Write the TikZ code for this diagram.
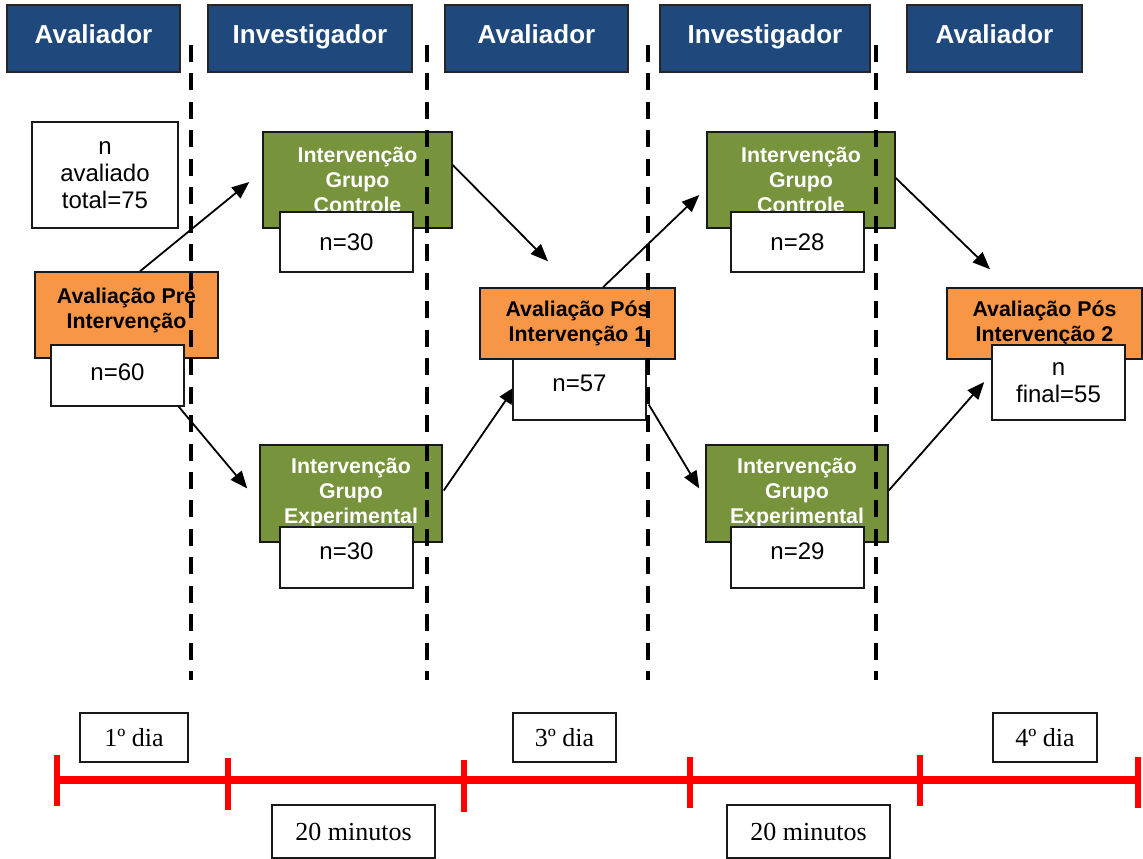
\documentclass[tikz,border=0pt]{standalone}
\usepackage{fontspec}
\setmainfont{Liberation Sans}
\newfontfamily\tnr{Liberation Serif}
\usetikzlibrary{arrows.meta,calc,backgrounds}
\definecolor{hblue}{HTML}{1F497D}
\definecolor{orng}{HTML}{F79646}
\definecolor{grn}{HTML}{77933C}
\definecolor{tlred}{HTML}{FF0000}
\newcommand\mybox[6]{\node[#2, minimum width={(#4-#3)*0.75pt}, minimum height={(#6-#5)*0.75pt}] (#1) at ({(#3+#4)/2},{(#5+#6)/2})}
\begin{document}
\begin{tikzpicture}[x=0.75pt,y=-0.75pt,
  hdr/.style={draw=black!85, line width=1pt, fill=hblue, text=white, inner sep=0pt,
    text height=14pt, text depth=6pt,
    font=\fontsize{19.5}{22}\selectfont\bfseries},
  nbox/.style={draw=black!90, line width=1.1pt, fill=white, align=center, inner sep=0pt,
    font=\fontsize{18}{20.5}\selectfont},
  obox/.style={draw=black!90, line width=1.1pt, fill=orng, align=center, inner sep=0pt,
    font=\fontsize{16}{18.75}\selectfont\bfseries},
  gbox/.style={draw=black!90, line width=1.1pt, fill=grn, text=white, align=center, inner sep=0pt,
    font=\fontsize{16}{18.75}\selectfont\bfseries},
  ntext/.style={align=center, inner sep=0pt, font=\fontsize{18}{20.5}\selectfont},
  otext/.style={align=center, inner sep=0pt, font=\fontsize{16}{18.75}\selectfont\bfseries},
  tbox/.style={draw=black!90, line width=1.1pt, fill=white, inner sep=0pt,
    font=\tnr\fontsize{19.5}{22}\selectfont},
  arr/.style={-{Triangle[length=13pt,width=10.5pt]}, line width=1.35pt},
  dsh/.style={line width=3.3pt, dash pattern=on 12.75pt off 8.6pt},
  tlline/.style={tlred, line width=6pt},
  tltick/.style={tlred, line width=5pt}
]
\useasboundingbox (0,0) rectangle (1143,859);

% headers
\mybox{h1}{hdr}{7}{180}{5}{72}{Avaliador};
\mybox{h2}{hdr}{208}{412}{5}{72}{Investigador};
\mybox{h3}{hdr}{445}{628}{5}{72}{Avaliador};
\mybox{h4}{hdr}{660}{870}{5}{72}{Investigador};
\mybox{h5}{hdr}{907}{1082}{5}{72}{Avaliador};

% left column
\mybox{ntot}{nbox}{32}{178}{122}{228}{n\\avaliado\\total=75};
\mybox{pre}{obox}{35}{218}{272}{358}{};
\node[otext] (preT) at ($(pre)+(0,-5)$) {Avaliação Pré\\Intervenção};
\mybox{n60}{nbox}{51}{184}{345}{406}{};
\node[ntext] (n60T) at ($(n60)+(0,-3)$) {n=60};

% first intervention
\mybox{gc1}{gbox}{263}{452}{132}{228}{Intervenção\\Grupo\\Controle};
\mybox{nc1}{nbox}{280}{413}{212}{272}{n=30};
\mybox{ge1}{gbox}{260}{442}{445}{542}{Intervenção\\Grupo\\Experimental};
\mybox{ne1}{nbox}{280}{413}{527}{588}{};
\node[ntext] (ne1T) at ($(ne1)+(0,-6)$) {n=30};

% post 1
\mybox{pos1}{obox}{480}{675}{288}{359}{Avaliação Pós\\Intervenção 1};
\mybox{n57}{nbox}{513}{646}{359}{420}{};
\node[ntext] (n57T) at ($(n57)+(0,-6)$) {n=57};

% second intervention
\mybox{gc2}{gbox}{707}{895}{132}{228}{Intervenção\\Grupo\\Controle};
\mybox{nc2}{nbox}{731}{864}{212}{272}{n=28};
\mybox{ge2}{gbox}{706}{888}{445}{542}{Intervenção\\Grupo\\Experimental};
\mybox{ne2}{nbox}{731}{864}{527}{588}{};
\node[ntext] (ne2T) at ($(ne2)+(0,-6)$) {n=29};

% post 2
\mybox{pos2}{obox}{947}{1142}{288}{359}{Avaliação Pós\\Intervenção 2};
\mybox{nf}{nbox}{992}{1125}{345}{420}{n\\final=55};

% arrows behind boxes
\begin{scope}[on background layer]
\draw[arr] ($(pre.north)+(13.5,0)$) -- ($(gc1.west)+(-13,2)$);
\draw[arr] ($(n60.south east)+(-6,0)$) -- ($(ge1.west)+(-12,-5)$);
\draw[arr] ($(gc1.east)+(0,-15)$) -- ($(pos1.north)+(-29.5,-26)$);
\draw[arr] ($(ge1.east)+(1,-3)$) -- ($(n57.west)+(3,-3)$);
\draw[arr] ($(pos1.north)+(25.5,0)$) -- ($(gc2.west)+(-7,15)$);
\draw[arr] ($(n57.east)+(2,15)$) -- ($(ge2.west)+(-6,-5)$);
\draw[arr] ($(gc2.east)+(0,-2)$) -- ($(pos2.north)+(-54.5,-18)$);
\draw[arr] ($(ge2.east)+(0,-3)$) -- ($(nf.west)+(-7,-0.5)$);
\end{scope}

% dashed separators (in front)
\draw[dsh] (191,45) -- (191,680);
\draw[dsh] (427,45) -- (427,680);
\draw[dsh] (648,45) -- (648,680);
\draw[dsh] (876,45) -- (876,680);

% timeline
\draw[tlline] (57,780) -- (1138,780);
\draw[tltick] (57,755) -- (57,806);
\draw[tltick] (228,758) -- (228,810);
\draw[tltick] (464,760) -- (464,812);
\draw[tltick] (690,757) -- (690,808);
\draw[tltick] (920,755) -- (920,806);
\draw[tltick] (1138,757) -- (1138,808);

\mybox{d1}{tbox}{80}{188}{713}{762}{1º dia};
\mybox{d3}{tbox}{513}{616}{713}{762}{3º dia};
\mybox{d4}{tbox}{993}{1097}{713}{762}{4º dia};
\mybox{m1}{tbox}{272}{435}{805}{858}{20 minutos};
\mybox{m2}{tbox}{727}{890}{805}{858}{20 minutos};
\end{tikzpicture}
\end{document}
